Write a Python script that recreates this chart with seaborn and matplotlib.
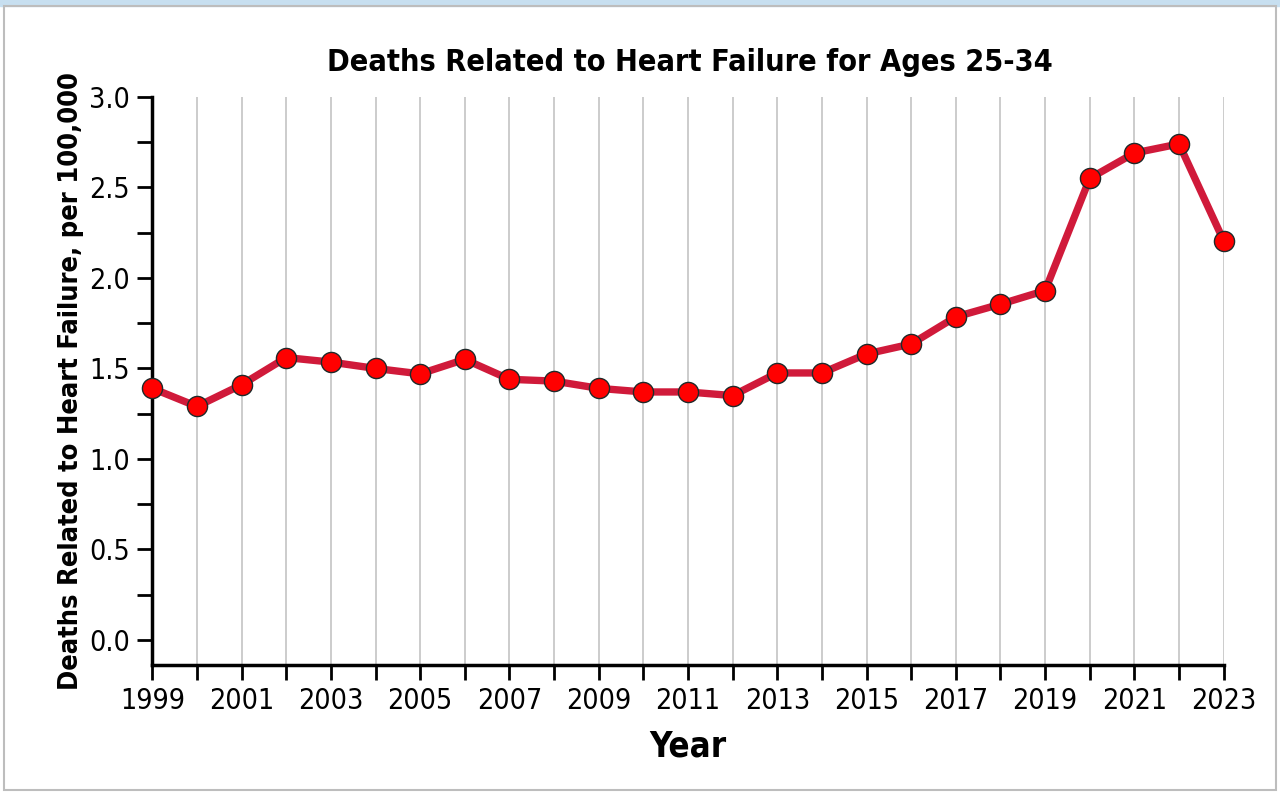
"""Deaths related to heart failure, ages 25-34, 1999-2023."""
import matplotlib
matplotlib.use("Agg")
import matplotlib.pyplot as plt
import pandas as pd
import seaborn as sns
from matplotlib import font_manager
from matplotlib.patches import Rectangle
from matplotlib.ticker import MultipleLocator

years = list(range(1999, 2024))
rate = [1.39, 1.29, 1.41, 1.56, 1.535, 1.50, 1.47, 1.55, 1.44, 1.43,
        1.39, 1.37, 1.37, 1.35, 1.475, 1.475, 1.58, 1.635, 1.785, 1.855,
        1.93, 2.55, 2.69, 2.74, 2.205]
tick_years = list(range(1999, 2024, 2))
y_ticks = [0.0, 0.5, 1.0, 1.5, 2.0, 2.5, 3.0]

TITLE = "Deaths Related to Heart Failure for Ages 25-34"
XLABEL = "Year"
YLABEL = "Deaths Related to Heart Failure, per 100,000"

LINE_COLOR = "#d01a3a"
MARKER_COLOR = "#ff0000"

sns.set_theme(style="white")
names = {f.name for f in font_manager.fontManager.ttflist}
narrow = [n for n in ("Liberation Sans Narrow", "DejaVu Sans") if n in names]
plt.rcParams["font.family"] = narrow + ["DejaVu Sans"]
plt.rcParams["font.stretch"] = "condensed"
plt.rcParams["text.color"] = "black"
plt.rcParams["axes.labelcolor"] = "black"
plt.rcParams["xtick.color"] = "black"
plt.rcParams["ytick.color"] = "black"

df = pd.DataFrame({"year": years, "rate": rate})

fig = plt.figure(figsize=(12.8, 7.94), dpi=100)
ax = fig.add_axes([0.119, 0.1625, 0.837, 0.7155])

# year gridlines behind the data
for yr in years:
    ax.axvline(yr, color="#c8c8c8", lw=1.3, zorder=0)

sns.lineplot(data=df, x="year", y="rate", ax=ax, color=LINE_COLOR, lw=5.3,
             marker="o", markersize=14.5, markerfacecolor=MARKER_COLOR,
             markeredgecolor="#1f2a2a", markeredgewidth=1.0, zorder=3,
             clip_on=False)

ax.set_xlim(1999, 2023)
ax.set_ylim(-0.138, 3.0)
ax.set_xticks(years)
ax.set_xticklabels([str(y) if y in tick_years else "" for y in years])
ax.set_yticks(y_ticks)
ax.set_yticklabels([f"{v:.1f}" for v in y_ticks])
ax.yaxis.set_minor_locator(MultipleLocator(0.25))

for side in ("top", "right"):
    ax.spines[side].set_visible(False)
for side in ("left", "bottom"):
    ax.spines[side].set_color("black")
    ax.spines[side].set_linewidth(2.5)

ax.tick_params(axis="x", which="major", direction="out", length=11, width=2,
               color="black", labelsize=20.5, pad=5, bottom=True)
ax.tick_params(axis="y", which="both", direction="out", length=11, width=2,
               color="black", labelsize=20.5, pad=5, left=True)
ax.tick_params(axis="y", which="minor", labelleft=False)

ax.set_xlabel(XLABEL, fontsize=25, fontweight="bold", labelpad=10)
ax.set_ylabel(YLABEL, fontsize=19.5, fontweight="bold", labelpad=4)
fig.text(0.539, 0.921, TITLE, ha="center", va="center",
         fontsize=22, fontweight="bold")

# frame: light blue band on top, grey border round the rest
fig.patches.append(Rectangle((0, 0.993), 1, 0.007, transform=fig.transFigure,
                             color="#c7dff0", zorder=0))
fig.patches.append(Rectangle((0.003, 0.005), 0.994, 0.988, transform=fig.transFigure,
                             fill=False, edgecolor="#bdbdbd", lw=1.5, zorder=0))

fig.savefig("out.png", dpi=100)
